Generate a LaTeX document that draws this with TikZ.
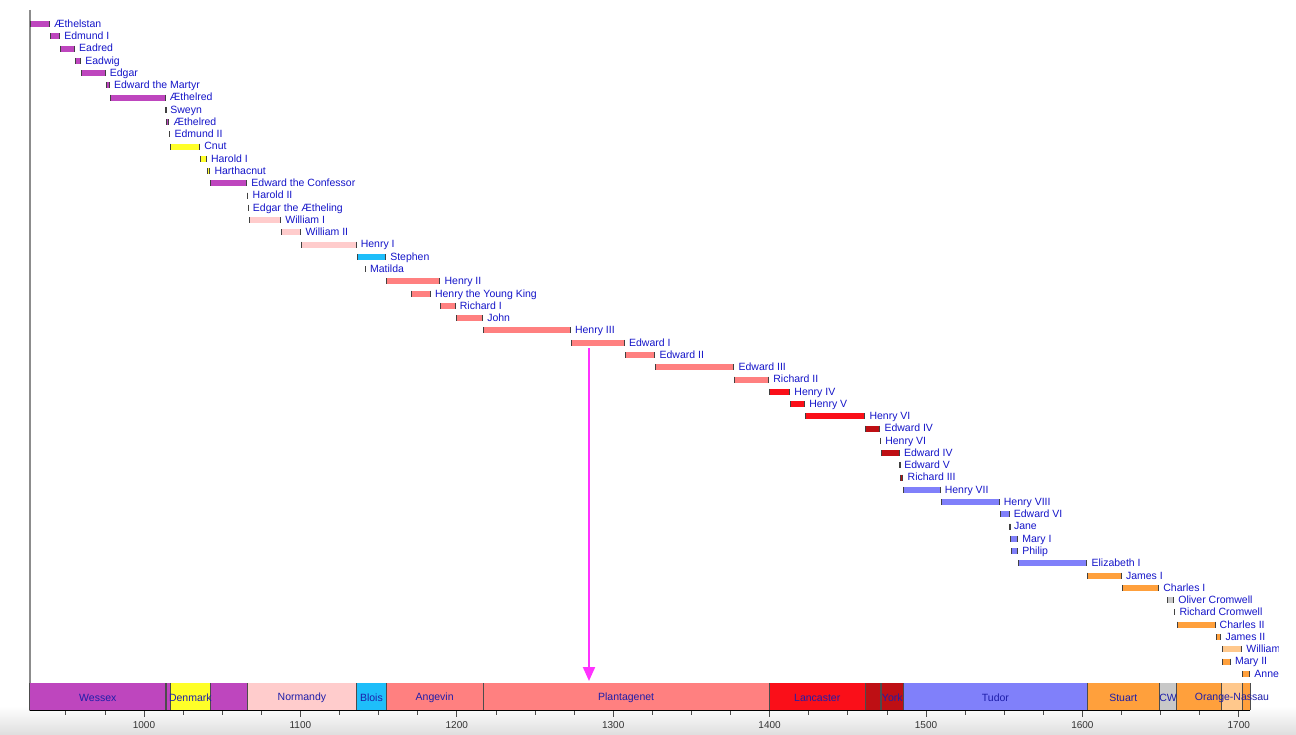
\documentclass[tikz,border=0pt]{standalone}
\usepackage{fontspec}
\setmainfont{Liberation Sans}
\usetikzlibrary{arrows.meta}
\definecolor{wessex}{RGB}{190,70,190}
\definecolor{denmark}{RGB}{255,255,40}
\definecolor{normandy}{RGB}{255,204,204}
\definecolor{blois}{RGB}{30,190,250}
\definecolor{plant}{RGB}{255,128,128}
\definecolor{lanc}{RGB}{250,15,25}
\definecolor{york}{RGB}{190,15,20}
\definecolor{tudor}{RGB}{128,128,250}
\definecolor{stuart}{RGB}{255,160,60}
\definecolor{orangen}{RGB}{255,200,140}
\definecolor{cw}{RGB}{200,200,200}
\definecolor{lblue}{RGB}{20,20,200}
\definecolor{bandtxt}{RGB}{30,30,170}
\definecolor{arrowmag}{RGB}{255,50,255}
\definecolor{shadegray}{RGB}{222,222,222}
\tikzset{
  barend/.style={draw=black!75, line width=1pt},
  lbl/.style={anchor=base west, inner sep=0pt, text=lblue, font=\fontsize{10.5}{12}\selectfont},
  bandlbl/.style={inner sep=0pt, text=bandtxt, font=\fontsize{10.5}{12}\selectfont},
  yearlbl/.style={inner sep=0pt, text=black!80, font=\fontsize{10}{12}\selectfont},
  segline/.style={line width=1pt, draw=black!70},
  axtick/.style={draw=black!70, line width=0.8pt},
  axisline/.style={draw=black, line width=1pt},
  leftaxis/.style={draw=black!45, line width=2pt},
  pointer/.style={draw=arrowmag, line width=2pt, -{Triangle[width=12pt,length=14pt]}},
}
\begin{document}
\begin{tikzpicture}[x=1pt,y=-1pt]
\useasboundingbox (0,0) rectangle (1296,735);
% bottom shading
\shade[top color=white, bottom color=shadegray] (0,706) rectangle (1296,735);
\begin{scope}
\clip (0,0) rectangle (1278,735);
% left axis
\draw[leftaxis] (30,10) -- (30,711);
% reigns
\foreach \s/\e/\c/\t [count=\i] in {
 927/939.8/wessex/Æthelstan,
 939.8/946.4/wessex/Edmund I,
 946.4/955.9/wessex/Eadred,
 955.9/959.8/wessex/Eadwig,
 959.8/975.5/wessex/Edgar,
 975.5/978.2/wessex/Edward the Martyr,
 978.2/1013.9/wessex/Æthelred,
 1013.9/1014.2/denmark/Sweyn,
 1014.2/1016.3/wessex/Æthelred,
 1016.3/1016.9/wessex/Edmund II,
 1016.9/1035.9/denmark/Cnut,
 1035.9/1040.2/denmark/Harold I,
 1040.2/1042.4/denmark/Harthacnut,
 1042.4/1066/wessex/Edward the Confessor,
 1066/1066.8/wessex/Harold II,
 1066.8/1066.95/wessex/Edgar the Ætheling,
 1066.95/1087.7/normandy/William I,
 1087.7/1100.6/normandy/William II,
 1100.6/1135.9/normandy/Henry I,
 1135.9/1154.8/blois/Stephen,
 1141.3/1141.9/blois/Matilda,
 1154.9/1189.5/plant/Henry II,
 1170.4/1183.4/plant/Henry the Young King,
 1189.5/1199.3/plant/Richard I,
 1199.3/1216.8/plant/John,
 1216.8/1272.9/plant/Henry III,
 1272.9/1307.5/plant/Edward I,
 1307.5/1327/plant/Edward II,
 1327/1377.5/plant/Edward III,
 1377.5/1399.7/plant/Richard II,
 1399.7/1413.2/lanc/Henry IV,
 1413.2/1422.7/lanc/Henry V,
 1422.7/1461.2/lanc/Henry VI,
 1461.2/1470.8/york/Edward IV,
 1470.8/1471.3/york/Henry VI,
 1471.3/1483.3/york/Edward IV,
 1483.3/1483.5/york/Edward V,
 1483.5/1485.6/york/Richard III,
 1485.6/1509.3/tudor/Henry VII,
 1509.3/1547.1/tudor/Henry VIII,
 1547.1/1553.5/tudor/Edward VI,
 1553.5/1553.6/tudor/Jane,
 1553.6/1558.9/tudor/Mary I,
 1554.5/1558.9/tudor/Philip,
 1558.9/1603.2/tudor/Elizabeth I,
 1603.2/1625.2/stuart/James I,
 1625.2/1649.1/stuart/Charles I,
 1653.9/1658.7/cw/Oliver Cromwell,
 1658.7/1659.4/cw/Richard Cromwell,
 1660.4/1685.1/stuart/Charles II,
 1685.1/1688.9/stuart/James II,
 1689.1/1702.2/orangen/William III,
 1689.1/1694.9/stuart/Mary II,
 1702.2/1707.3/stuart/Anne}{
  \pgfmathsetmacro\xa{144+(\s-1000)*1.564}
  \pgfmathsetmacro\xb{144+(\e-1000)*1.564}
  \pgfmathsetmacro\yc{24+(\i-1)*12.26}
  \fill[\c] (\xa,\yc-3) rectangle (\xb,\yc+3);
  \draw[barend] (\xa+0.5,\yc-3) -- (\xa+0.5,\yc+3);
  \draw[barend] (\xb-0.5,\yc-3) -- (\xb-0.5,\yc+3);
  \node[lbl] (r\i) at (\xb+4,\yc+3.3) {\t};
}
% houses band
\foreach \s/\e/\c in {
 927/1013.9/wessex, 1013.9/1014.2/denmark, 1014.2/1016.9/wessex,
 1016.9/1042.4/denmark, 1042.4/1066/wessex, 1066/1135.9/normandy,
 1135.9/1154.9/blois, 1154.9/1216.8/plant, 1216.8/1399.7/plant,
 1399.7/1461.2/lanc, 1461.2/1470.8/york, 1470.8/1471.3/york,
 1471.3/1485.6/york, 1485.6/1603.2/tudor, 1603.2/1649.1/stuart,
 1649.1/1660.4/cw, 1660.4/1689.1/stuart, 1689.1/1702.2/orangen,
 1702.2/1707.3/stuart}{
  \pgfmathsetmacro\xa{144+(\s-1000)*1.564}
  \pgfmathsetmacro\xb{144+(\e-1000)*1.564}
  \fill[\c] (\xa,683) rectangle (\xb,710);
  \draw[segline] (\xa,683) -- (\xa,710);
  \draw[segline] (\xb,683) -- (\xb,710);
}
\foreach \s/\e/\t [count=\j] in {
 927/1013.9/Wessex, 1016.9/1042.4/Denmark, 1066/1135.9/Normandy,
 1135.9/1154.9/Blois, 1154.9/1216.8/Angevin, 1216.8/1399.7/Plantagenet,
 1399.7/1461.2/Lancaster, 1471.3/1485.6/York, 1485.6/1603.2/Tudor,
 1603.2/1649.1/Stuart, 1649.1/1660.4/CW, 1689.1/1702.2/Orange-Nassau}{
  \pgfmathsetmacro\xm{144+((\s+\e)/2-1000)*1.564}
  \node[bandlbl] (b\j) at (\xm,697.5) {\t};
}
% axis
\draw[axisline] (30,710.5) -- (1250,710.5);
\foreach \y in {950,975,...,1700}{
  \pgfmathsetmacro\xt{144+(\y-1000)*1.564}
  \pgfmathsetmacro\tl{mod(\y,100)==0 ? 6 : 3.5}
  \draw[axtick] (\xt,711) -- (\xt,711+\tl);
}
\foreach \y in {1000,1100,...,1700}{
  \pgfmathsetmacro\xt{144+(\y-1000)*1.564}
  \node[yearlbl] (y\y) at (\xt,725.5) {\y};
}
% pointer
\coordinate (arrS) at (589,348);
\coordinate (arrE) at (589,681);
\draw[pointer] (arrS) -- (arrE);
\end{scope}
\end{tikzpicture}
\end{document}
